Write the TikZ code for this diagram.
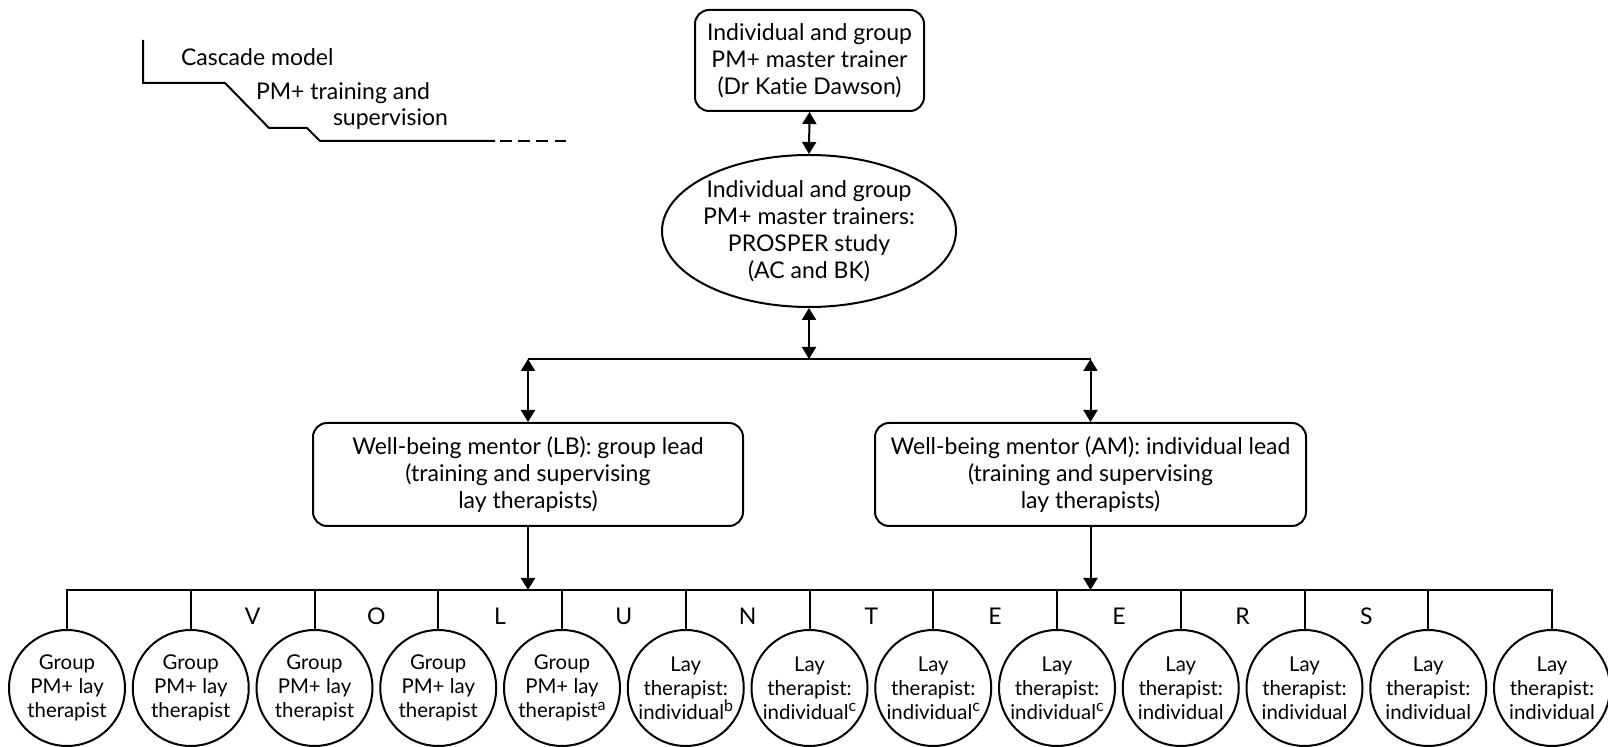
\documentclass[tikz,border=0pt]{standalone}
\usepackage{fontspec}
\setmainfont{Lato}[Ligatures=NoCommon]
\usetikzlibrary{arrows.meta,shapes.geometric}
\def\darr{\draw[{Triangle[length=6pt,width=7pt]}-{Triangle[length=6pt,width=7pt]}]}
\def\sarr{\draw[-{Triangle[length=6pt,width=7pt]}]}
\def\txt{\fontsize{11.5}{13.5}\selectfont}
\def\supr#1{\raisebox{3.8pt}{\fontsize{8}{8}\selectfont #1}}
\tikzset{
  rbox/.style={draw,rounded corners=7pt,align=center,inner sep=0pt,font=\txt},
  vol/.style={draw,circle,minimum size=58pt,inner sep=0pt,align=center,
    font=\fontsize{10.2}{12}\selectfont},
  letter/.style={anchor=base,inner sep=0pt,font=\txt},
}

\begin{document}
\begin{tikzpicture}[x=0.5pt,y=-0.5pt,line width=1pt]
                \useasboundingbox (0,0) rectangle (1608,747);
                % cascade model key
                \draw (143,40) -- (143,83) -- (225,83) -- (269,128) -- (307,128) -- (320,141) -- (495,141);
                \draw[dash pattern=on 5.8pt off 3.3pt] (500,141) -- (570,141);
                \node[anchor=base west,inner sep=0pt,font=\txt] (key1) at (180,66) {Cascade model};
                \node[anchor=base west,inner sep=0pt,font=\txt] (key2) at (255,100) {PM+ training and};
                \node[anchor=base west,inner sep=0pt,font=\txt] (key3) at (332,126) {supervision};
                % trainers
                \node[rbox,minimum width=114.5pt,minimum height=50.5pt] (tr) at (809.5,60.5)
                    {Individual and group\\PM+ master trainer\\(Dr Katie Dawson)};
                \node[draw,ellipse,align=center,inner xsep=-3pt,inner ysep=0pt,
                      minimum width=147pt,minimum height=76pt,font=\txt] (pr) at (809,231)
                    {Individual and group\\PM+ master trainers:\\PROSPER study\\(AC and BK)};
                \coordinate (jm) at (809,359);
                \coordinate (jl) at (528,359);
                \coordinate (jr) at (1090.5,359);
                \node[rbox,minimum width=215pt,minimum height=51.5pt] (lb) at (528,474.5)
                    {Well-being mentor (LB): group lead\\(training and supervising\\lay therapists)};
                \node[rbox,minimum width=215.5pt,minimum height=51.5pt] (rb) at (1090.5,474.5)
                    {Well-being mentor (AM): individual lead\\(training and supervising\\lay therapists)};
                \coordinate (bl) at (528,590);
                \coordinate (br) at (1090.5,590);
                \darr (tr.south) -- (pr.north);
                \darr (pr.south) -- (jm);
                \draw (jl) -- (jr);
                \darr (jl) -- (lb.north);
                \darr (jr) -- (rb.north);
                \sarr (lb.south) -- (bl);
                \sarr (rb.south) -- (br);
                % volunteers
                \node[vol] (v0)  at (67,688)     {Group\\PM+ lay\\therapist};
                \node[vol] (v1)  at (190.75,688) {Group\\PM+ lay\\therapist};
                \node[vol] (v2)  at (314.5,688)  {Group\\PM+ lay\\therapist};
                \node[vol] (v3)  at (438.25,688) {Group\\PM+ lay\\therapist};
                \node[vol] (v4)  at (562,688)    {Group\\PM+ lay\\therapist\supr{a}};
                \node[vol] (v5)  at (685.75,688) {Lay\\therapist:\\individual\supr{b}};
                \node[vol] (v6)  at (809.5,688)  {Lay\\therapist:\\individual\supr{c}};
                \node[vol] (v7)  at (933.25,688) {Lay\\therapist:\\individual\supr{c}};
                \node[vol] (v8)  at (1057,688)   {Lay\\therapist:\\individual\supr{c}};
                \node[vol] (v9)  at (1180.75,688){Lay\\therapist:\\individual};
                \node[vol] (v10) at (1304.5,688) {Lay\\therapist:\\individual};
                \node[vol] (v11) at (1428.25,688){Lay\\therapist:\\individual};
                \node[vol] (v12) at (1552,688)   {Lay\\therapist:\\individual};
                \draw (v0.north) |- (bl) -| (v12.north);
                \draw (v1.north) -- (v1.north |- bl);
                \draw (v2.north) -- (v2.north |- bl);
                \draw (v3.north) -- (v3.north |- bl);
                \draw (v4.north) -- (v4.north |- bl);
                \draw (v5.north) -- (v5.north |- bl);
                \draw (v6.north) -- (v6.north |- bl);
                \draw (v7.north) -- (v7.north |- bl);
                \draw (v8.north) -- (v8.north |- bl);
                \draw (v9.north) -- (v9.north |- bl);
                \draw (v10.north) -- (v10.north |- bl);
                \draw (v11.north) -- (v11.north |- bl);
                \node[letter] (l1)  at (252.6,625)  {V};
                \node[letter] (l2)  at (376.4,625)  {O};
                \node[letter] (l3)  at (500.1,625)  {L};
                \node[letter] (l4)  at (623.9,625)  {U};
                \node[letter] (l5)  at (747.6,625)  {N};
                \node[letter] (l6)  at (871.4,625)  {T};
                \node[letter] (l7)  at (995.1,625)  {E};
                \node[letter] (l8)  at (1118.9,625) {E};
                \node[letter] (l9)  at (1242.6,625) {R};
                \node[letter] (l10) at (1366.4,625) {S};
            \end{tikzpicture}
\end{document}
